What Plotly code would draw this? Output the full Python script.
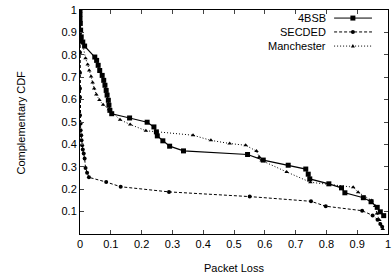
import plotly.graph_objects as go

# ---- data ----
bsb_x = [0, 0, 0, 0.001, 0.002, 0.004, 0.009, 0.015, 0.048, 0.054, 0.059, 0.064, 0.072, 0.077,
         0.081, 0.085, 0.088, 0.092, 0.094, 0.097, 0.103, 0.161, 0.218, 0.240, 0.248, 0.251,
         0.269, 0.291, 0.336, 0.544, 0.595, 0.676, 0.733, 0.741, 0.746, 0.808, 0.849, 0.860,
         0.920, 0.945, 0.965, 0.975, 0.986]
bsb_y = [1.0, 0.98, 0.96, 0.94, 0.91, 0.88, 0.857, 0.839, 0.790, 0.775, 0.753, 0.730, 0.708, 0.686,
         0.664, 0.641, 0.620, 0.597, 0.575, 0.552, 0.537, 0.518, 0.499, 0.478, 0.456, 0.438,
         0.416, 0.392, 0.371, 0.355, 0.330, 0.307, 0.290, 0.267, 0.246, 0.224, 0.206, 0.184,
         0.162, 0.144, 0.119, 0.099, 0.082]

sec_x = [0, 0, 0, 0, 0, 0, 0, 0, 0, 0.002, 0.002, 0.004, 0.005, 0.007, 0.009, 0.012, 0.015,
         0.018, 0.023, 0.029, 0.085, 0.132, 0.289, 0.551, 0.750, 0.798, 0.916, 0.950, 0.966,
         0.975, 0.981]
sec_y = [1.0, 0.95, 0.90, 0.86, 0.81, 0.72, 0.65, 0.61, 0.53, 0.493, 0.463, 0.441, 0.419, 0.396,
         0.377, 0.359, 0.337, 0.295, 0.273, 0.253, 0.232, 0.211, 0.188, 0.167, 0.146, 0.124,
         0.104, 0.083, 0.064, 0.045, 0.032]

man_x = [0, 0, 0, 0.005, 0.018, 0.025, 0.030, 0.036, 0.041, 0.046, 0.053, 0.063, 0.075, 0.094,
         0.130, 0.163, 0.214, 0.367, 0.425, 0.486, 0.538, 0.573, 0.582, 0.590, 0.671, 0.748,
         0.887, 0.903, 0.947, 0.958, 0.964, 0.972, 0.983]
man_y = [1.0, 0.95, 0.90, 0.87, 0.785, 0.757, 0.730, 0.703, 0.676, 0.650, 0.623, 0.598, 0.577,
         0.557, 0.510, 0.489, 0.461, 0.441, 0.418, 0.404, 0.396, 0.370, 0.344, 0.328, 0.277,
         0.231, 0.209, 0.186, 0.150, 0.125, 0.092, 0.063, 0.022]

x_ticks = [0, 0.1, 0.2, 0.3, 0.4, 0.5, 0.6, 0.7, 0.8, 0.9, 1]
x_labels = ["0", "0.1", "0.2", "0.3", "0.4", "0.5", "0.6", "0.7", "0.8", "0.9", "1"]
y_ticks = [0.1, 0.2, 0.3, 0.4, 0.5, 0.6, 0.7, 0.8, 0.9, 1]
y_labels = ["0.1", "0.2", "0.3", "0.4", "0.5", "0.6", "0.7", "0.8", "0.9", "1"]

names = ["4BSB", "SECDED", "Manchester"]
x_title = "Packet Loss"
y_title = "Complementary CDF"

FONT = "Liberation Sans, Arial, Helvetica, sans-serif"

fig = go.Figure()
fig.add_trace(go.Scatter(x=bsb_x, y=bsb_y, mode="lines+markers", name=names[0],
                         line=dict(color="black", width=1.2),
                         marker=dict(symbol="square", size=5, color="black")))
fig.add_trace(go.Scatter(x=sec_x, y=sec_y, mode="lines+markers", name=names[1],
                         line=dict(color="black", width=1, dash="3px,2px"),
                         marker=dict(symbol="circle", size=4, color="black")))
fig.add_trace(go.Scatter(x=man_x, y=man_y, mode="lines+markers", name=names[2],
                         line=dict(color="black", width=1, dash="1px,2px"),
                         marker=dict(symbol="triangle-up", size=4, color="black")))

# custom legend (text right-aligned, sample to the right) as gnuplot does
leg_rows = [0.964, 0.902, 0.839]
dashes = ["solid", "3px,2px", "1px,2px"]
shapes = []
annotations = []
for i, nm in enumerate(names):
    yy = leg_rows[i]
    annotations.append(dict(x=0.805, y=yy, xref="paper", yref="paper", text=nm,
                            showarrow=False, xanchor="right", yanchor="middle",
                            font=dict(family=FONT, size=11, color="black")))
    shapes.append(dict(type="line", xref="paper", yref="paper", x0=0.825, x1=0.948,
                       y0=yy, y1=yy, line=dict(color="black", width=1, dash=dashes[i])))
cx = 0.886
shapes.append(dict(type="rect", xref="paper", yref="paper", xsizemode="pixel", ysizemode="pixel",
                   xanchor=cx, yanchor=leg_rows[0], x0=-2.5, x1=2.5, y0=-2.5, y1=2.5,
                   fillcolor="black", line=dict(width=0)))
shapes.append(dict(type="circle", xref="paper", yref="paper", xsizemode="pixel", ysizemode="pixel",
                   xanchor=cx, yanchor=leg_rows[1], x0=-2, x1=2, y0=-2, y1=2,
                   fillcolor="black", line=dict(width=0)))
shapes.append(dict(type="path", xref="paper", yref="paper", xsizemode="pixel", ysizemode="pixel",
                   xanchor=cx, yanchor=leg_rows[2], path="M -2 -1.5 L 2 -1.5 L 0 2 Z",
                   fillcolor="black", line=dict(width=0)))

# axis titles as annotations (fixed positions)
annotations.append(dict(x=0.5, y=-0.15, xref="paper", yref="paper", text=x_title,
                        showarrow=False, xanchor="center", yanchor="middle",
                        font=dict(family=FONT, size=11, color="black")))
annotations.append(dict(x=-0.19, y=0.5, xref="paper", yref="paper", text=y_title,
                        showarrow=False, xanchor="center", yanchor="middle", textangle=-90,
                        font=dict(family=FONT, size=11, color="black")))

fig.update_layout(
    width=392, height=278,
    margin=dict(l=80, r=4, t=10, b=44, autoexpand=False),
    paper_bgcolor="white", plot_bgcolor="white",
    showlegend=False,
    font=dict(family=FONT, size=11, color="black"),
    shapes=shapes, annotations=annotations,
)
fig.update_xaxes(range=[0, 1], tickvals=x_ticks, ticktext=x_labels, ticks="inside", ticklen=4,
                 showline=True, mirror="ticks", linecolor="black", linewidth=1, showgrid=False,
                 zeroline=False, tickfont=dict(size=11), automargin=False)
fig.update_yaxes(range=[0, 1], tickvals=y_ticks, ticktext=y_labels, ticks="inside", ticklen=4,
                 showline=True, mirror="ticks", linecolor="black", linewidth=1, showgrid=False,
                 zeroline=False, tickfont=dict(size=11), automargin=False)

fig.write_html("out.html",
               config={"displayModeBar": False, "staticPlot": True},
               post_script="document.body.style.margin='0';document.body.style.padding='0';"
                           "document.body.style.overflow='hidden';")
